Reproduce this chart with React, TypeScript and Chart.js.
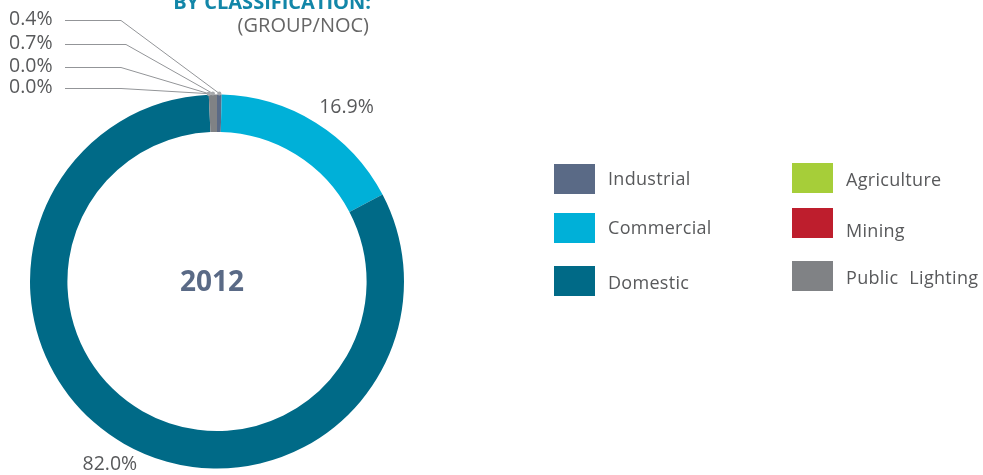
import React, { useEffect, useRef } from "react";
import { Chart, registerables } from "chart.js";

Chart.register(...registerables);

const labels = ["Industrial", "Commercial", "Domestic", "Agriculture", "Mining", "Public Lighting"];
const shares = [0.4, 16.9, 82.0, 0.0, 0.0, 0.7];
const colors = ["#5a6a86", "#00b0d8", "#006a87", "#a6ce39", "#be1e2d", "#808285"];
const yearLabel = "2012";
const titleLine1 = "BY CLASSIFICATION:";
const titleLine2 = "(GROUP/NOC)";
// small slices labelled via leader lines (data indices, top to bottom)
const leaderOrder = [0, 5, 3, 4];
// large slices labelled next to the ring
const outerLabelIdx = [1, 2];

const FONT = "'Open Sans', 'Noto Sans', sans-serif";
const TEXT = "#58595b";

const annotPlugin = {
  id: "annot",
  afterDraw(chart: any) {
    const ctx = chart.ctx;
    const meta = chart.getDatasetMeta(0);
    const arcs = meta.data;
    ctx.save();
    // title
    ctx.textAlign = "right";
    ctx.textBaseline = "alphabetic";
    ctx.fillStyle = "#1286a8";
    ctx.font = `bold 20px ${FONT}`;
    ctx.fillText(titleLine1, 371, 9);
    ctx.fillStyle = "#666666";
    ctx.font = `20px ${FONT}`;
    ctx.fillText(titleLine2, 369, 32);

    // center year
    const a0 = arcs[0];
    ctx.textAlign = "center";
    ctx.textBaseline = "middle";
    ctx.fillStyle = "#5a6a86";
    ctx.font = `bold 28px ${FONT}`;
    ctx.fillText(yearLabel, a0.x - 5, a0.y + 2);

    // leader labels
    const rowY = [20, 44, 67, 88];
    const elbowX = [121, 126, 121, 121];
    ctx.font = `19.5px ${FONT}`;
    leaderOrder.forEach((idx, i) => {
      const arc = arcs[idx];
      const mid = (arc.startAngle + arc.endAngle) / 2;
      const ax = arc.x + Math.cos(mid) * arc.outerRadius;
      const ay = arc.y + Math.sin(mid) * arc.outerRadius - 1;
      ctx.strokeStyle = "#939598";
      ctx.lineWidth = 1;
      ctx.beginPath();
      ctx.moveTo(65, rowY[i] + 0.5);
      ctx.lineTo(elbowX[i], rowY[i] + 0.5);
      ctx.lineTo(ax, ay);
      ctx.stroke();
      ctx.fillStyle = "#a7a9ac";
      ctx.beginPath();
      ctx.arc(ax, ay, 2, 0, Math.PI * 2);
      ctx.fill();
      ctx.fillStyle = TEXT;
      ctx.textAlign = "left";
      ctx.textBaseline = "middle";
      ctx.fillText(shares[idx].toFixed(1) + "%", 9, rowY[i] - 1);
    });

    // outer labels
    const offs: Record<number, [number, number]> = { 1: [16, 9], 2: [0, -3] };
    outerLabelIdx.forEach((idx) => {
      const arc = arcs[idx];
      const mid = (arc.startAngle + arc.endAngle) / 2;
      const r = arc.outerRadius + 28;
      const x = arc.x + Math.cos(mid) * r + offs[idx][0];
      const y = arc.y + Math.sin(mid) * r + offs[idx][1];
      ctx.fillStyle = TEXT;
      ctx.textAlign = "center";
      ctx.textBaseline = "middle";
      ctx.fillText(shares[idx].toFixed(1) + "%", x, y);
    });
    ctx.restore();
  },
};

const legendPos = [
  { x: 554, y: 164, ty: 178 },
  { x: 554, y: 213, ty: 227 },
  { x: 554, y: 266, ty: 282 },
  { x: 792, y: 163, ty: 179 },
  { x: 792, y: 208, ty: 230 },
  { x: 792, y: 261, ty: 277 },
];

export default function App() {
  const ref = useRef<HTMLCanvasElement>(null);
  useEffect(() => {
    document.body.style.margin = "0";
    const chart = new Chart(ref.current as HTMLCanvasElement, {
      type: "doughnut",
      data: {
        labels,
        datasets: [
          {
            data: shares,
            backgroundColor: colors,
            borderWidth: 0,
          },
        ],
      },
      options: {
        responsive: false,
        animation: false,
        cutout: "80%",
        rotation: 0,
        layout: { padding: { left: 30, top: 94, right: 579, bottom: 6 } },
        plugins: { legend: { display: false }, tooltip: { enabled: false } },
      },
      plugins: [annotPlugin],
    });
    return () => chart.destroy();
  }, []);
  return (
    <div style={{ position: "fixed", left: 0, top: 0, width: 983, height: 475, background: "#fff" }}>
      <canvas ref={ref} width={983} height={475} style={{ position: "absolute", left: 0, top: 0 }} />
      {labels.map((l, i) => (
        <React.Fragment key={l}>
          <div
            style={{
              position: "absolute",
              left: legendPos[i].x,
              top: legendPos[i].y,
              width: 41,
              height: 30,
              background: colors[i],
            }}
          />
          <div
            style={{
              position: "absolute",
              left: legendPos[i].x + 54,
              top: legendPos[i].ty - 12,
              height: 24,
              lineHeight: "24px",
              fontFamily: FONT,
              fontSize: 18,
              color: TEXT,
              whiteSpace: "nowrap",
              letterSpacing: "0.3px",
              wordSpacing: "6px",
            }}
          >
            {l}
          </div>
        </React.Fragment>
      ))}
    </div>
  );
}
